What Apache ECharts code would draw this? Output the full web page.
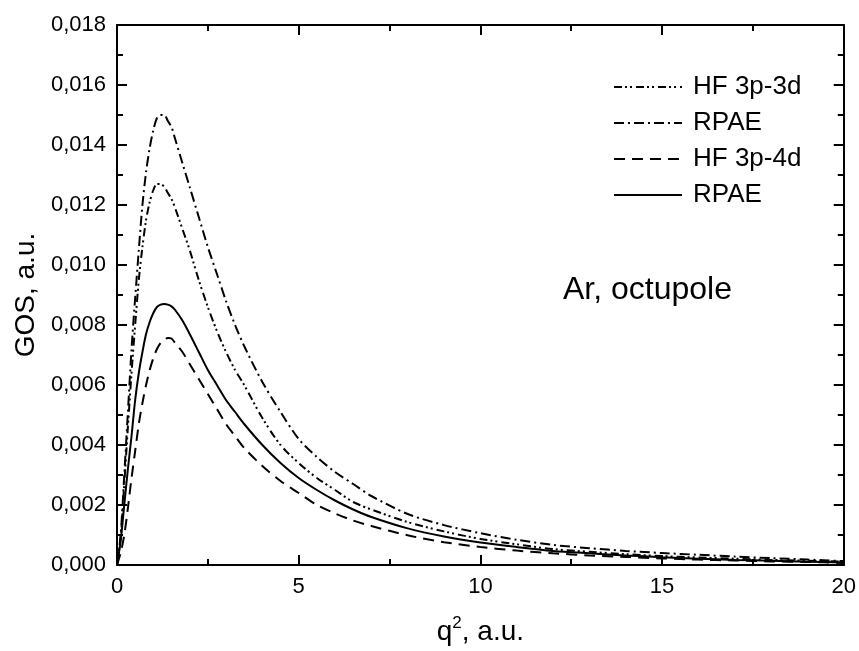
<!DOCTYPE html>
<html><head><meta charset="utf-8">
<script src="https://cdn.jsdelivr.net/npm/echarts@6/dist/echarts.min.js"></script>
<style>html,body{margin:0;padding:0;background:#fff}#c{width:859px;height:651px}</style>
</head><body><div id="c"></div>
<script>
const qValues = [0, 0.1, 0.2, 0.3, 0.4, 0.5, 0.6, 0.7, 0.8, 0.9, 1.0, 1.1, 1.2, 1.3, 1.4, 1.5, 1.6, 1.8, 2.0, 2.25, 2.5, 2.75, 3.0, 3.25, 3.5, 4.0, 4.5, 5, 5.5, 6, 6.5, 7, 8, 9, 10, 11, 12, 13, 14, 15, 16, 17, 18, 19, 20];
const hf3d   = [0, 0.0009, 0.0027, 0.0046, 0.0064, 0.0080, 0.0095, 0.0106, 0.0115, 0.0121, 0.0125, 0.0127, 0.0127, 0.0126, 0.0124, 0.0122, 0.0119, 0.0112, 0.0105, 0.0095, 0.0086, 0.0078, 0.0071, 0.0065, 0.0060, 0.0049, 0.0040, 0.0034, 0.0029, 0.0025, 0.0021, 0.00185, 0.00143, 0.00112, 0.00087, 0.00069, 0.00053, 0.00044, 0.00036, 0.00030, 0.00025, 0.00021, 0.00017, 0.00014, 0.00011];
const rpae3d = [0, 0.0010, 0.0030, 0.0051, 0.0072, 0.0089, 0.0105, 0.0120, 0.0131, 0.0139, 0.0145, 0.0149, 0.0150, 0.0150, 0.0148, 0.0146, 0.0142, 0.0134, 0.0126, 0.0116, 0.0106, 0.0097, 0.0088, 0.0080, 0.0073, 0.0061, 0.0051, 0.0042, 0.0036, 0.0031, 0.0027, 0.0023, 0.0017, 0.00133, 0.00106, 0.00084, 0.00067, 0.00056, 0.00047, 0.00040, 0.00034, 0.00028, 0.00023, 0.00018, 0.00013];
const hf4d   = [0, 0.0004, 0.0010, 0.0019, 0.0029, 0.0038, 0.0047, 0.0054, 0.0060, 0.0065, 0.0069, 0.0072, 0.0074, 0.0075, 0.00757, 0.00755, 0.0074, 0.0071, 0.0067, 0.0062, 0.0057, 0.0052, 0.0047, 0.0043, 0.0039, 0.0033, 0.0028, 0.0024, 0.0020, 0.00172, 0.00148, 0.0013, 0.00099, 0.00076, 0.0006, 0.00048, 0.00039, 0.00032, 0.00027, 0.00022, 0.00018, 0.00015, 0.00012, 0.0001, 0.00007];
const rpae4d = [0, 0.0008, 0.0020, 0.0032, 0.0043, 0.0055, 0.0064, 0.0071, 0.0077, 0.0081, 0.0084, 0.0086, 0.00868, 0.0087, 0.00868, 0.00862, 0.0085, 0.00815, 0.0077, 0.0071, 0.0065, 0.0060, 0.0055, 0.0051, 0.0047, 0.0040, 0.0034, 0.0029, 0.0025, 0.00215, 0.00185, 0.0016, 0.00122, 0.00095, 0.00075, 0.0006, 0.00047, 0.00039, 0.00032, 0.00026, 0.00021, 0.00017, 0.00014, 0.00011, 0.00008];
const seriesNames = ['HF 3p-3d', 'RPAE 3p-3d', 'HF 3p-4d', 'RPAE 3p-4d'];
const legendLabels = ['HF 3p-3d', 'RPAE', 'HF 3p-4d', 'RPAE'];
const seriesValues = [hf3d, rpae3d, hf4d, rpae4d];
const dashTypes = [[8, 3, 2, 3, 2, 4], [10, 4, 2, 4], [11, 7], 'solid'];
const annotation = 'Ar, octupole';

const FONT = '"Liberation Sans", Arial, Helvetica, sans-serif';
const chart = echarts.init(document.getElementById('c'), null, {renderer: 'canvas'});
const fmtY = v => v.toFixed(3).replace('.', ',');
const axisCommon = {
  axisLine: {show: true, onZero: false, lineStyle: {color: '#000', width: 2}},
  axisTick: {show: true, inside: true, length: 10, lineStyle: {color: '#000', width: 2}},
  minorTick: {show: true, splitNumber: 2, length: 6, lineStyle: {color: '#000', width: 2}},
  splitLine: {show: false},
  minorSplitLine: {show: false}
};
const option = {
  animation: false,
  backgroundColor: '#fff',
  grid: {left: 117, top: 25, right: 14, bottom: 86, containLabel: false},
  xAxis: [
    Object.assign({
      type: 'value', min: 0, max: 20, interval: 5, position: 'bottom',
      axisLabel: {color: '#000', fontSize: 22, fontFamily: FONT, margin: 11},
      name: '{a|q}{b|2}{a|, a.u.}', nameLocation: 'middle', nameGap: 50,
      nameTextStyle: {rich: {
        a: {fontSize: 28, color: '#000', fontFamily: FONT, lineHeight: 34},
        b: {fontSize: 17, color: '#000', fontFamily: FONT, verticalAlign: 'top', lineHeight: 34}
      }}
    }, axisCommon),
    Object.assign({
      type: 'value', min: 0, max: 20, interval: 5, position: 'top',
      axisLabel: {show: false}
    }, axisCommon)
  ],
  yAxis: [
    Object.assign({
      type: 'value', min: 0, max: 0.018, interval: 0.002, position: 'left',
      axisLabel: {color: '#000', fontSize: 22, fontFamily: FONT, margin: 11, formatter: fmtY},
      name: 'GOS, a.u.', nameLocation: 'middle', nameGap: 72,
      nameTextStyle: {color: '#000', fontSize: 28, fontFamily: FONT}
    }, axisCommon),
    Object.assign({
      type: 'value', min: 0, max: 0.018, interval: 0.002, position: 'right',
      axisLabel: {show: false}
    }, axisCommon)
  ],
  legend: {
    orient: 'vertical', left: 613, top: 74, padding: 0,
    itemWidth: 68, itemHeight: 14, itemGap: 10,
    data: seriesNames,
    formatter: name => legendLabels[seriesNames.indexOf(name)],
    itemStyle: {opacity: 0},
    textStyle: {color: '#000', fontSize: 26, fontFamily: FONT, padding: [0, 0, 0, 6]},
    selectedMode: false
  },
  graphic: [{
    type: 'text', left: 563, top: 274,
    style: {text: annotation, fill: '#000', font: '32px ' + FONT}
  }],
  series: seriesNames.map((n, i) => ({
    name: n, type: 'line', xAxisIndex: 0, yAxisIndex: 0,
    symbol: 'none', smooth: 0.3,
    lineStyle: {color: '#000', width: 2, type: dashTypes[i]},
    itemStyle: {color: '#000'},
    data: qValues.map((q, k) => [q, seriesValues[i][k]])
  }))
};
chart.setOption(option);
</script></body></html>
